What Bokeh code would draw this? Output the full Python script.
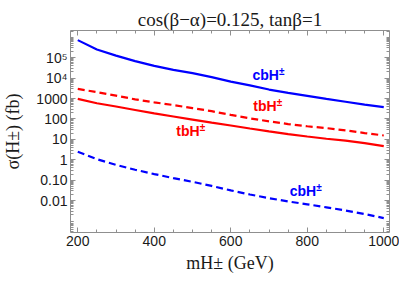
from bokeh.plotting import figure
from bokeh.models import (Range1d, FixedTicker, LinearAxis, LogAxis, Label,
                          CustomJSTickFormatter)
from bokeh.embed import file_html
from bokeh.resources import INLINE

# ---------------- data ----------------
mass = [200, 250, 300, 350, 400, 450, 500, 550, 600, 650, 700, 750, 800, 850, 900, 950, 1000]
# blue solid  (cbH±, upper)
cbH_solid = [724000, 251000, 126000, 67600, 39800, 25100, 17400, 11200, 6760,
             4370, 2750, 1900, 1350, 955, 692, 501, 380]
# red dashed  (tbH±, upper)
tbH_dashed = [2950, 2040, 1380, 912, 646, 479, 339, 240, 158, 107, 75.9, 56.2,
              43.7, 35.5, 27.5, 20.4, 15.5]
# red solid   (tbH±, lower)
tbH_solid = [955, 589, 407, 275, 186, 132, 93.3, 66.1, 47.9, 33.9, 24.5, 18.2,
             13.8, 10.7, 8.7, 6.6, 4.7]
# blue dashed (cbH±, lower)
cbH_dashed = [2.45, 1.07, 0.562, 0.324, 0.200, 0.126, 0.0832, 0.0525, 0.0316,
              0.0200, 0.0132, 0.0091, 0.0066, 0.0047, 0.0033, 0.0022, 0.0014]

x_major = [200, 400, 600, 800, 1000]
x_minor = [250, 300, 350, 450, 500, 550, 650, 700, 750, 850, 900, 950]
y_major = [0.01, 0.1, 1, 10, 100, 1000, 1e4, 1e5]
y_minor = [k * 10.0 ** e for e in range(-4, 7) for k in range(1, 10)
           if not (k == 1 and 10.0 ** e in y_major)]

title_text = "cos(β−α)=0.125, tanβ=1"
x_label = "mH± (GeV)"
y_label = "σ(H±) (fb)"

# label anchors (data coords) for the curve names
series_labels = [("cbH", "#0000ff", 656.6, 6010, 26.5),
                 ("tbH", "#ff0000", 659.0, 172, 23.5),
                 ("tbH", "#ff0000", 457.4, 9.87, 23.5),
                 ("cbH", "#0000ff", 754.0, 0.0121, 26.5)]

# ---------------- figure ----------------
W, H = 399, 275
p = figure(width=W, height=H, output_backend="svg", toolbar_location=None,
           x_range=Range1d(181, 1015), y_range=Range1d(2.75e-4, 2.14e6),
           y_axis_type="log", min_border_left=67, min_border_right=10,
           min_border_top=30, min_border_bottom=43)
p.xgrid.visible = False
p.ygrid.visible = False
p.outline_line_color = None
p.background_fill_color = "white"
p.border_fill_color = "white"

AX = "#8f8f8f"
TXT = "#1a1a1a"

p.title.text = title_text
p.title.align = "center"
p.title.text_font = "Liberation Serif"
p.title.text_font_size = "19px"
p.title.text_font_style = "normal"
p.title.text_color = TXT
p.title.standoff = 2

y_fmt = CustomJSTickFormatter(code="""
if (tick >= 1e4) {
  const e = Math.round(Math.log10(tick));
  const sup = {4: "\u2074", 5: "\u2075", 6: "\u2076"};
  return "10" + sup[e];
}
if (tick >= 1) return tick.toFixed(0);
return tick.toFixed(2);
""")
blank = CustomJSTickFormatter(code="return '';")


def style(ax, ticks, minor):
    ax.ticker = FixedTicker(ticks=ticks, minor_ticks=minor)
    ax.axis_line_color = AX
    ax.major_tick_line_color = AX
    ax.minor_tick_line_color = AX
    ax.major_tick_in = 5
    ax.major_tick_out = 0
    ax.minor_tick_in = 3
    ax.minor_tick_out = 0
    ax.major_label_text_font = "Liberation Sans"
    ax.major_label_text_font_size = "14px"
    ax.major_label_text_color = TXT
    ax.major_label_standoff = 3
    ax.axis_label_text_font = "Liberation Serif"
    ax.axis_label_text_font_size = "18px"
    ax.axis_label_text_font_style = "normal"
    ax.axis_label_text_color = TXT


xa = p.xaxis[0]
style(xa, x_major, x_minor)
xa.axis_label = x_label
xa.axis_label_standoff = 4
ya = p.yaxis[0]
style(ya, y_major, y_minor)
ya.formatter = y_fmt
ya.axis_label = y_label
ya.axis_label_standoff = 10

top = LinearAxis()
style(top, x_major, x_minor)
top.formatter = blank
p.add_layout(top, "above")
right = LogAxis()
style(right, y_major, y_minor)
right.formatter = blank
p.add_layout(right, "right")

BLUE, RED = "#0000ff", "#ff0000"
p.line(mass, cbH_solid, line_color=BLUE, line_width=2.2)
p.line(mass, tbH_dashed, line_color=RED, line_width=2.2, line_dash="7 4")
p.line(mass, tbH_solid, line_color=RED, line_width=2.2)
p.line(mass, cbH_dashed, line_color=BLUE, line_width=2.2, line_dash="7 4")

for t, c, x, y, w in series_labels:
    p.add_layout(Label(x=x, y=y, text=t, text_font="Liberation Sans",
                       text_font_size="14px", text_font_style="bold",
                       text_color=c))
    p.add_layout(Label(x=x, y=y, text="±", text_font="Liberation Sans",
                       text_font_size="10px", text_font_style="bold",
                       text_color=c, x_offset=w, y_offset=6))

open("out.html", "w").write(file_html(p, INLINE))
